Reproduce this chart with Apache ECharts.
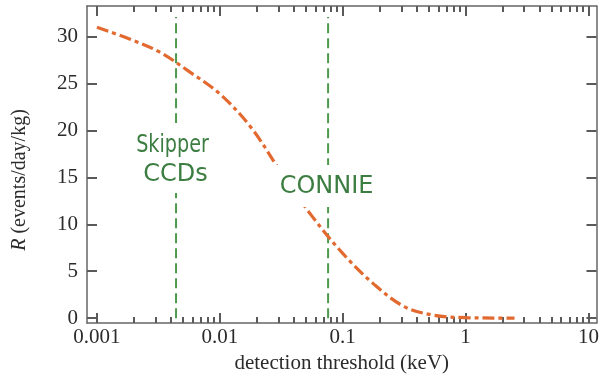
<!DOCTYPE html>
<html>
<head>
<meta charset="utf-8">
<script src="https://cdn.jsdelivr.net/npm/echarts@6/dist/echarts.min.js"></script>
<style>html,body{margin:0;padding:0;background:#fff}#c{width:602px;height:379px}</style>
</head>
<body>
<div id="c"></div>
<script>
// ---- data ----
var thresholdsKeV = [0.001, 0.0018, 0.0032, 0.0056, 0.01, 0.018, 0.032, 0.056, 0.1, 0.18, 0.32, 0.56, 1, 1.8, 2.5];
var rateValues    = [31.0, 29.8, 28.4, 26.3, 23.9, 20.3, 15.4, 10.9, 6.9, 3.6, 1.2, 0.3, 0.05, 0.01, 0.0];
var skipperThresholdKeV = 0.0044;
var connieThresholdKeV = 0.076;
var thresholdLineRange = [0, 32.1];
var xMajorTicksKeV = [0.001, 0.01, 0.1, 1, 10];
var xTickLabels = ['0.001', '0.01', '0.1', '1', '10'];
var xMinorMultipliers = [2, 3, 4, 5, 6, 7, 8, 9];
var yTicks = [0, 5, 10, 15, 20, 25, 30];
var yTickLabels = ['0', '5', '10', '15', '20', '25', '30'];

// ---- derived ----
var lg = function (v) { return Math.log10(v); };
var xMajorLog = xMajorTicksKeV.map(lg);
var xMinorLog = [];
xMajorTicksKeV.slice(0, -1).forEach(function (d) {
  xMinorMultipliers.forEach(function (m) { xMinorLog.push(Math.log10(d * m)); });
});
var curveData = thresholdsKeV.map(function (x, i) { return [lg(x), rateValues[i]]; });
var XMIN = -3.0811, XMAX = 1.0649, YMIN = -0.528, YMAX = 33.27;

var axisColor = '#666';
var tickColor = '#5a5a5a';
var serif = 'Liberation Serif';
var green = '#4e994e';
var textGreen = '#3c7d42';

function xAxisDef(pos, ticks, len, withLabels, withLine) {
  return {
    type: 'value', position: pos, min: XMIN, max: XMAX, gridIndex: 0,
    axisLine: { show: withLine, onZero: false, lineStyle: { color: axisColor, width: 1.5 } },
    axisTick: { show: true, inside: true, length: len, customValues: ticks, lineStyle: { color: tickColor, width: 2 } },
    axisLabel: withLabels ? {
      show: true, customValues: xMajorLog, margin: 4,
      fontFamily: serif, fontSize: 21, color: '#2b2b2b',
      formatter: function (v) {
        var best = 0;
        for (var i = 1; i < xMajorLog.length; i++) if (Math.abs(xMajorLog[i] - v) < Math.abs(xMajorLog[best] - v)) best = i;
        return xTickLabels[best];
      }
    } : { show: false },
    splitLine: { show: false },
    name: withLabels ? 'detection threshold (keV)' : '',
    nameLocation: 'middle', nameGap: 27,
    nameTextStyle: { fontFamily: serif, fontSize: 21, color: '#2b2b2b' }
  };
}
function yAxisDef(pos, withLabels) {
  return {
    type: 'value', position: pos, min: YMIN, max: YMAX, gridIndex: 0,
    axisLine: { show: true, onZero: false, lineStyle: { color: axisColor, width: 1.5 } },
    axisTick: { show: true, inside: true, length: 10, customValues: yTicks, lineStyle: { color: tickColor, width: 2 } },
    axisLabel: withLabels ? {
      show: true, customValues: yTicks, margin: 9,
      fontFamily: serif, fontSize: 21, color: '#2b2b2b',
      formatter: function (v) { var i = yTicks.indexOf(Math.round(v)); return i >= 0 ? yTickLabels[i] : ''; }
    } : { show: false },
    splitLine: { show: false }
  };
}

var chart = echarts.init(document.getElementById('c'), null, { renderer: 'canvas' });
chart.setOption({
  animation: false,
  backgroundColor: '#fff',
  grid: { left: 87, right: 4, top: 6, bottom: 53, show: false },
  xAxis: [
    xAxisDef('bottom', xMajorLog, 10, true, true),
    xAxisDef('bottom', xMinorLog, 6, false, false),
    xAxisDef('top', xMajorLog, 10, false, true),
    xAxisDef('top', xMinorLog, 6, false, false)
  ],
  yAxis: [yAxisDef('left', true), yAxisDef('right', false)],
  series: [
    {
      type: 'line', xAxisIndex: 0, yAxisIndex: 0, data: curveData, smooth: 0.35,
      symbol: 'none', z: 3,
      lineStyle: { color: '#e2692f', width: 3.2, type: [12, 4, 4, 4] }
    },
    {
      type: 'line', xAxisIndex: 0, yAxisIndex: 0, symbol: 'none', z: 2,
      data: thresholdLineRange.map(function (r) { return [lg(skipperThresholdKeV), r]; }),
      lineStyle: { color: green, width: 2, type: [10, 5] }
    },
    {
      type: 'line', xAxisIndex: 0, yAxisIndex: 0, symbol: 'none', z: 2,
      data: thresholdLineRange.map(function (r) { return [lg(connieThresholdKeV), r]; }),
      lineStyle: { color: green, width: 2, type: [10, 5] }
    }
  ]
});

var sx = chart.convertToPixel({ gridIndex: 0 }, [lg(skipperThresholdKeV), 0])[0];
var cx = chart.convertToPixel({ gridIndex: 0 }, [lg(connieThresholdKeV), 0])[0];
var labelFont = 'DejaVu Sans';
chart.setOption({
  graphic: [
    { type: 'rect', z: 100, shape: { x: sx - 46, y: 123, width: 88, height: 70 }, style: { fill: '#fff' } },
    { type: 'rect', z: 100, shape: { x: cx - 60, y: 165, width: 96, height: 42 }, style: { fill: '#fff' } },
    { type: 'text', z: 101, x: sx - 3.5, y: 145.5, scaleX: 0.8,
      style: { text: 'Skipper', fontFamily: labelFont, fontSize: 24, fill: textGreen, align: 'center', verticalAlign: 'middle' } },
    { type: 'text', z: 101, x: sx - 0.5, y: 174.5,
      style: { text: 'CCDs', fontFamily: labelFont, fontSize: 24, fill: textGreen, align: 'center', verticalAlign: 'middle' } },
    { type: 'text', z: 101, x: cx - 1.5, y: 187,
      style: { text: 'CONNIE', fontFamily: labelFont, fontSize: 24, fill: textGreen, align: 'center', verticalAlign: 'middle' } },
    { type: 'text', z: 101, x: 20, y: 180, rotation: Math.PI / 2,
      style: {
        text: '{i|R}{n| (events/day/kg)}', align: 'center', verticalAlign: 'middle',
        rich: {
          i: { fontFamily: serif, fontSize: 20, fontStyle: 'italic', fill: '#2b2b2b' },
          n: { fontFamily: serif, fontSize: 20, fill: '#2b2b2b' }
        }
      } }
  ]
});
</script>
</body>
</html>
